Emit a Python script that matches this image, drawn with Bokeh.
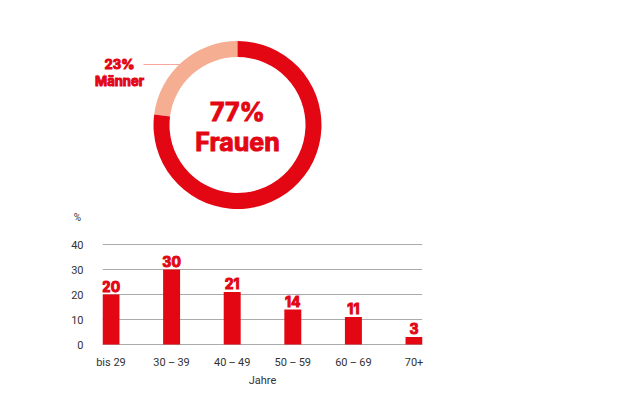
import math
from bokeh.plotting import figure
from bokeh.layouts import column
from bokeh.models import Range1d, FixedTicker, ColumnDataSource
from bokeh.core.properties import value
from bokeh.embed import file_html
from bokeh.resources import INLINE

# ---- data ----
gender_labels = ["Männer", "Frauen"]
gender_shares = [23, 77]
age_groups = ["bis 29", "30\u2009\u2013\u200939", "40\u2009\u2013\u200949", "50\u2009\u2013\u200959", "60\u2009\u2013\u200969", "70+"]
age_values = [20, 30, 21, 14, 11, 3]
y_ticks = [0, 10, 20, 30, 40]

RED = "#E30613"
SALMON = "#F5AE92"
FONT = "Roboto"
BFONT = "Inter"
W = 630

# ---- donut figure (1 data unit = 1 px) ----
H1 = 230
d = figure(width=W, height=H1, x_range=Range1d(0, W), y_range=Range1d(0, H1),
           output_backend="svg", toolbar_location=None,
           x_axis_location=None, y_axis_location=None, min_border=0)
d.frame_align = False
d.grid.visible = False
d.outline_line_color = None

cx, cy = 237, H1 - 124.5
starts, ends = [], []
a = math.pi / 2
for s in gender_shares:
    starts.append(a)
    a += s / 100 * 2 * math.pi
    ends.append(a)
dsrc = ColumnDataSource(dict(x=[cx, cx], y=[cy, cy], start=starts, end=ends,
                             color=[SALMON, RED], label=gender_labels))
d.annular_wedge(x="x", y="y", inner_radius=68, outer_radius=84,
                start_angle="start", end_angle="end", direction="anticlock",
                fill_color="color", line_color=None, source=dsrc)

bold_kw = dict(text_align="center", text_baseline="middle", text_font=value(BFONT),
               text_font_style="bold", text_color=RED, text_outline_color=RED)
d.line(x=[143, 180], y=[H1 - 64, H1 - 64], line_color="#F3A89B", line_width=1)
d.text(x=[119], y=[H1 - 63], text=[f"{gender_shares[0]}%"], text_font_size="13px", **bold_kw)
d.text(x=[119], y=[H1 - 80], text=[gender_labels[0]], text_font_size="13px", **bold_kw)
d.text(x=[cx], y=[H1 - 111], text=[f"{gender_shares[1]}%"], text_font_size="25px", **bold_kw)
d.text(x=[cx], y=[H1 - 141], text=[gender_labels[1]], text_font_size="25px", **bold_kw)
d.text(x=[77], y=[H1 - 217], text=["%"], text_align="center",
       text_baseline="middle", text_font=value(FONT),
       text_font_size="10px", text_color="#333333")

# ---- bar figure ----
H2 = 420 - H1
bw = 0.28
xs = list(range(len(age_groups)))
bsrc = ColumnDataSource(dict(x=xs, top=age_values, lbl=[str(v) for v in age_values]))

frame_top = 242 - H1
frame_bottom = 346 - H1
b = figure(width=W, height=H2, x_range=Range1d(-bw / 2, len(xs) - 1 + bw / 2),
           y_range=Range1d(-0.8, 40.8), output_backend="svg", toolbar_location=None,
           min_border_left=102, min_border_right=W - 422,
           min_border_top=frame_top, min_border_bottom=H2 - frame_bottom)
b.frame_align = False
b.outline_line_color = None
b.vbar(x="x", top="top", width=bw, bottom=0, fill_color=RED, line_color=None, source=bsrc)
b.text(x="x", y="top", text="lbl", source=bsrc, text_align="center",
       text_baseline="bottom", y_offset=-3, text_font=value(BFONT),
       text_font_style="bold", text_font_size="14px", text_color=RED,
       text_outline_color=RED)

b.xgrid.visible = False
b.ygrid.ticker = FixedTicker(ticks=y_ticks)
b.ygrid.grid_line_color = "#ababab"
b.ygrid.grid_line_width = 1

b.yaxis.ticker = FixedTicker(ticks=y_ticks)
b.xaxis.ticker = FixedTicker(ticks=xs)
b.xaxis.major_label_overrides = {i: g for i, g in enumerate(age_groups)}
for ax in (b.xaxis, b.yaxis):
    ax.axis_line_color = None
    ax.major_tick_line_color = None
    ax.minor_tick_line_color = None
    ax.major_tick_out = 0
    ax.major_tick_in = 0
    ax.minor_tick_out = 0
    ax.minor_tick_in = 0
    ax.major_label_text_font = FONT
    ax.major_label_text_font_size = "11px"
    ax.major_label_text_color = "#333333"
b.yaxis.major_label_standoff = 19
b.xaxis.major_label_standoff = 9
b.xaxis.axis_label = "Jahre"
b.xaxis.axis_label_text_font = FONT
b.xaxis.axis_label_text_font_size = "11px"
b.xaxis.axis_label_text_font_style = "normal"
b.xaxis.axis_label_text_color = "#333333"
b.xaxis.axis_label_standoff = 2

layout = column(d, b, spacing=0)
open("out.html", "w").write(file_html(layout, INLINE))
